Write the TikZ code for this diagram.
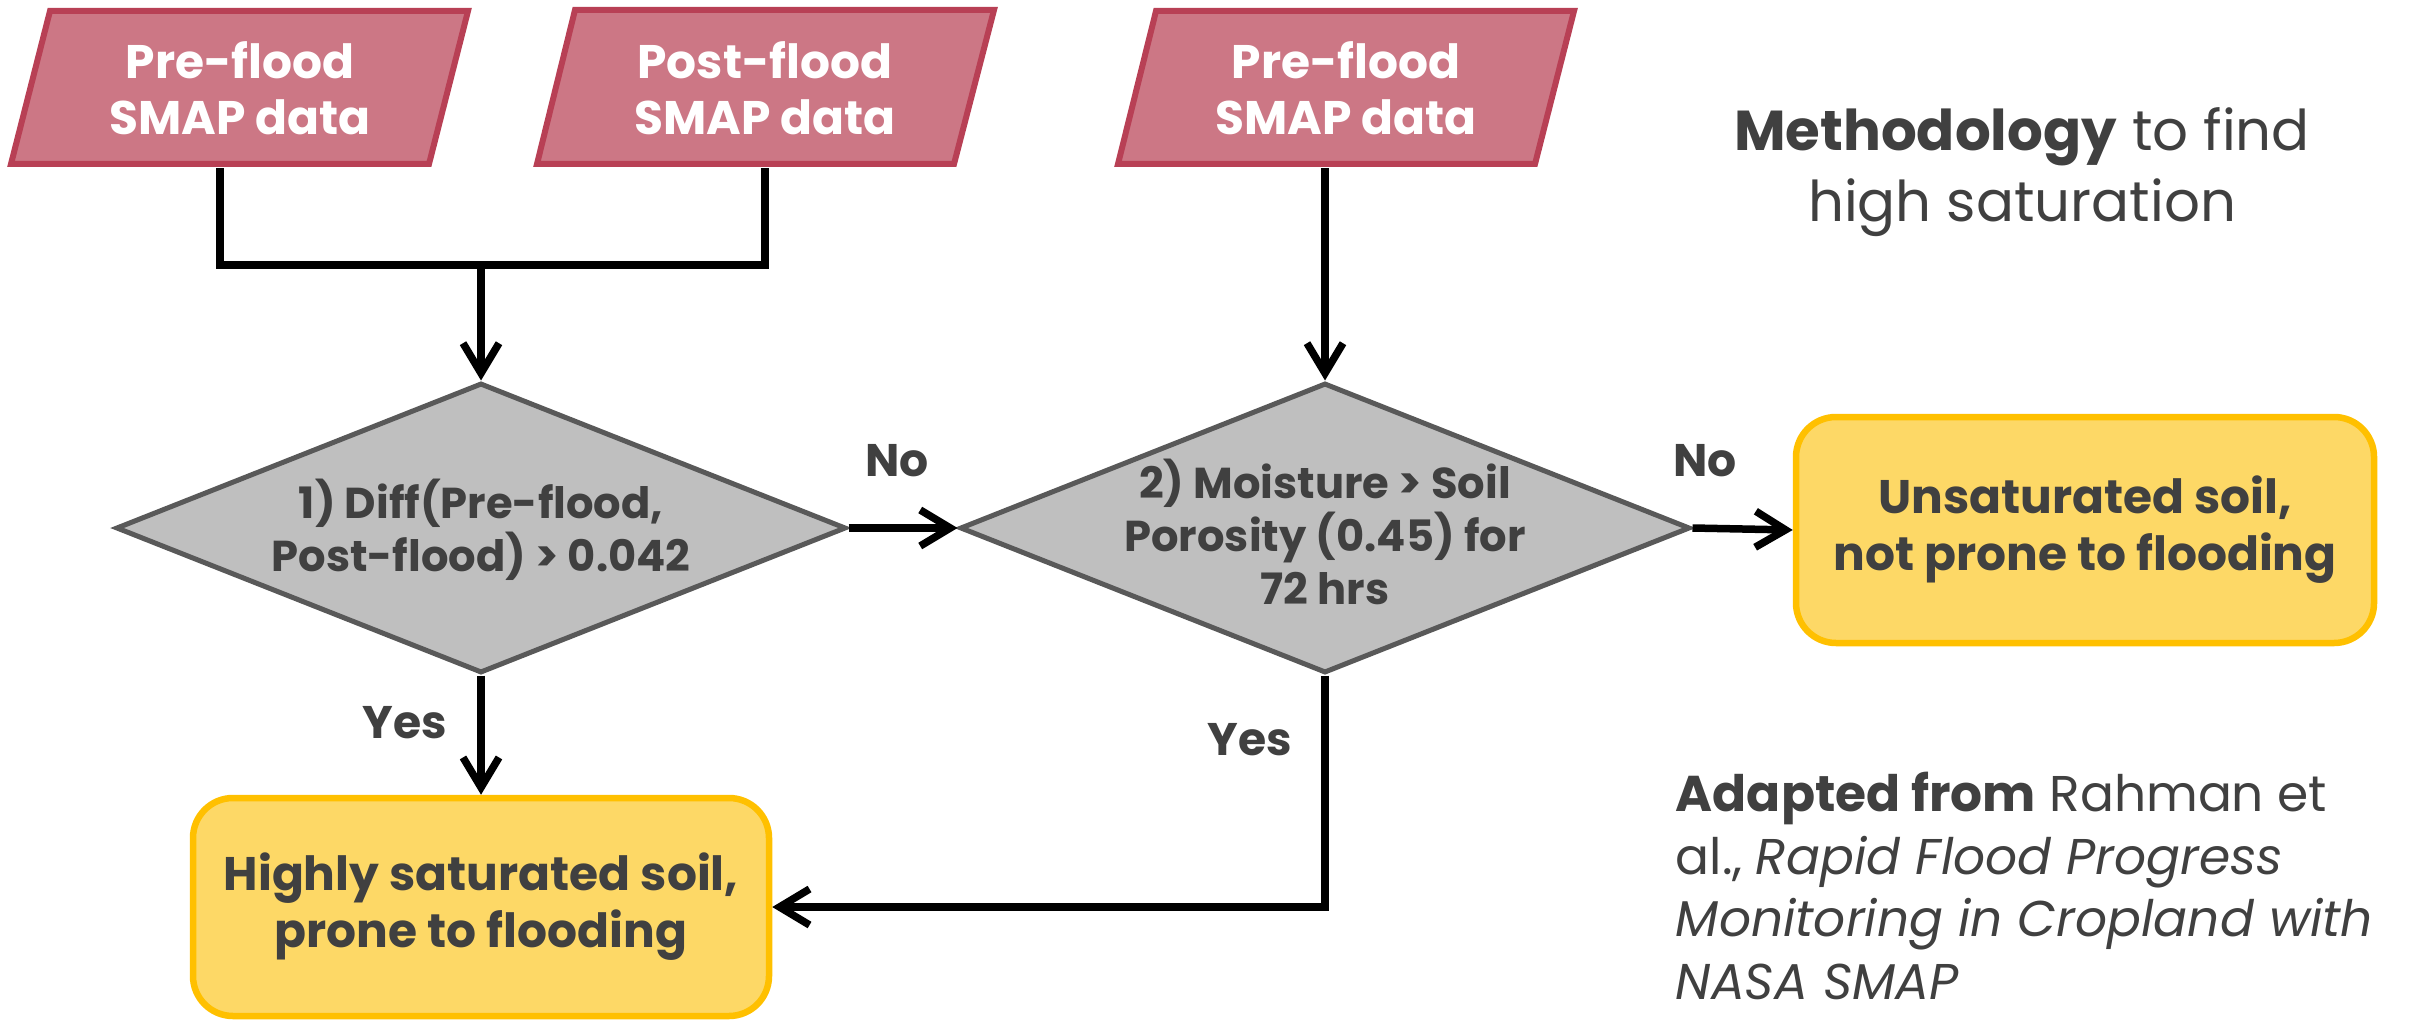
\documentclass[tikz,border=0pt]{standalone}
\usepackage{fontspec}
\setmainfont{Poppins}
\usetikzlibrary{arrows.meta,shapes.geometric}
\definecolor{pinkfill}{RGB}{204,119,133}
\definecolor{pinkdraw}{RGB}{184,64,85}
\definecolor{grayfill}{RGB}{191,191,191}
\definecolor{graydraw}{RGB}{89,89,89}
\definecolor{yelfill}{RGB}{253,216,102}
\definecolor{yeldraw}{RGB}{255,192,0}
\definecolor{txt}{RGB}{64,64,64}
\begin{document}
\begin{tikzpicture}[x=0.1mm,y=-0.1mm,
  para/.style={fill=pinkfill,draw=pinkdraw,line width=0.6mm,line join=miter},
  ptext/.style={text=white,font=\bfseries\fontsize{13.4}{15.9}\selectfont,align=center,minimum height=15.9mm,inner sep=0pt},
  dia/.style={diamond,fill=grayfill,draw=graydraw,line width=0.5mm,minimum width=73mm,minimum height=29mm,inner sep=0pt},
  dtext/.style={text=txt,font=\bfseries\fontsize{12.3}{15.1}\selectfont,align=center},
  endbox/.style={rectangle,rounded corners=4mm,fill=yelfill,draw=yeldraw,line width=0.65mm,text=txt,font=\bfseries\fontsize{13.4}{16.2}\selectfont,align=center},
  lbl/.style={text=txt,font=\bfseries\fontsize{13}{15}\selectfont,inner sep=0pt},
  conn/.style={line width=0.75mm,draw=black,-{Straight Barb[length=3mm,width=3.6mm]}},
  plain/.style={line width=0.75mm,draw=black}]
\useasboundingbox (0,0) rectangle (2412,1024);
% parallelograms
\draw[para] (50,11) -- (468,11) -- (429,164) -- (11,164) -- cycle;
\draw[para] (575,10) -- (994,10) -- (954,164) -- (537,164) -- cycle;
\draw[para] (1156,11) -- (1574,11) -- (1535,164) -- (1118,164) -- cycle;
\node[ptext] (p1) at (240,88) {Pre-flood\\SMAP data};
\node[ptext] (p2) at (765,88) {Post-flood\\SMAP data};
\node[ptext] (p3) at (1346,88) {Pre-flood\\SMAP data};
% diamonds
\node[dia] (d1) at (481,528) {};
\node[dtext] (d1t) at (481,530) {1) Diff(Pre-flood,\\Post-flood) > 0.042};
\node[dia] (d2) at (1325,528) {};
\node[dtext] (d2t) at (1325,532) {2) Moisture > Soil\\Porosity (0.45) for\\72 hrs};
% end boxes
\node[endbox,minimum width=57.8mm,minimum height=22.6mm] (b1) at (2085,530) {Unsaturated soil,\\not prone to flooding};
\node[endbox,minimum width=57.6mm,minimum height=21.8mm] (b2) at (481,907) {Highly saturated soil,\\prone to flooding};
% connectors
\coordinate (j1) at (481,265);
\draw[plain] ([xshift=-2mm]p1.south) |- (j1);
\draw[plain] (p2.south) |- (j1);
\draw[conn] (j1) -- (d1.north);
\draw[conn] (d2.north |- p3.south) -- (d2.north);
\draw[conn] (d1.east) -- (d2.west);
\draw[conn] (d2.east) -- (b1.west);
\draw[conn] (d1.south) -- (b2.north);
\draw[conn] (d2.south) |- (b2.east);
% labels
\node[lbl] (no1) at (897,461) {No};
\node[lbl] (no2) at (1705,461) {No};
\node[lbl] (yes1) at (405,723) {Yes};
\node[lbl] (yes2) at (1250,740) {Yes};
% texts
\node[text=txt,font=\fontsize{16}{20}\selectfont,align=center] (title) at (2022,172) {\textbf{Methodology} to find\\high saturation};
\node[text=txt,font=\fontsize{14.3}{17.9}\selectfont,align=left,anchor=north west,inner sep=0pt] (src) at (1675,771) {\textbf{Adapted from} Rahman et\\al., \textit{Rapid Flood Progress}\\\textit{Monitoring in Cropland with}\\\textit{NASA SMAP}};
\end{tikzpicture}
\end{document}
